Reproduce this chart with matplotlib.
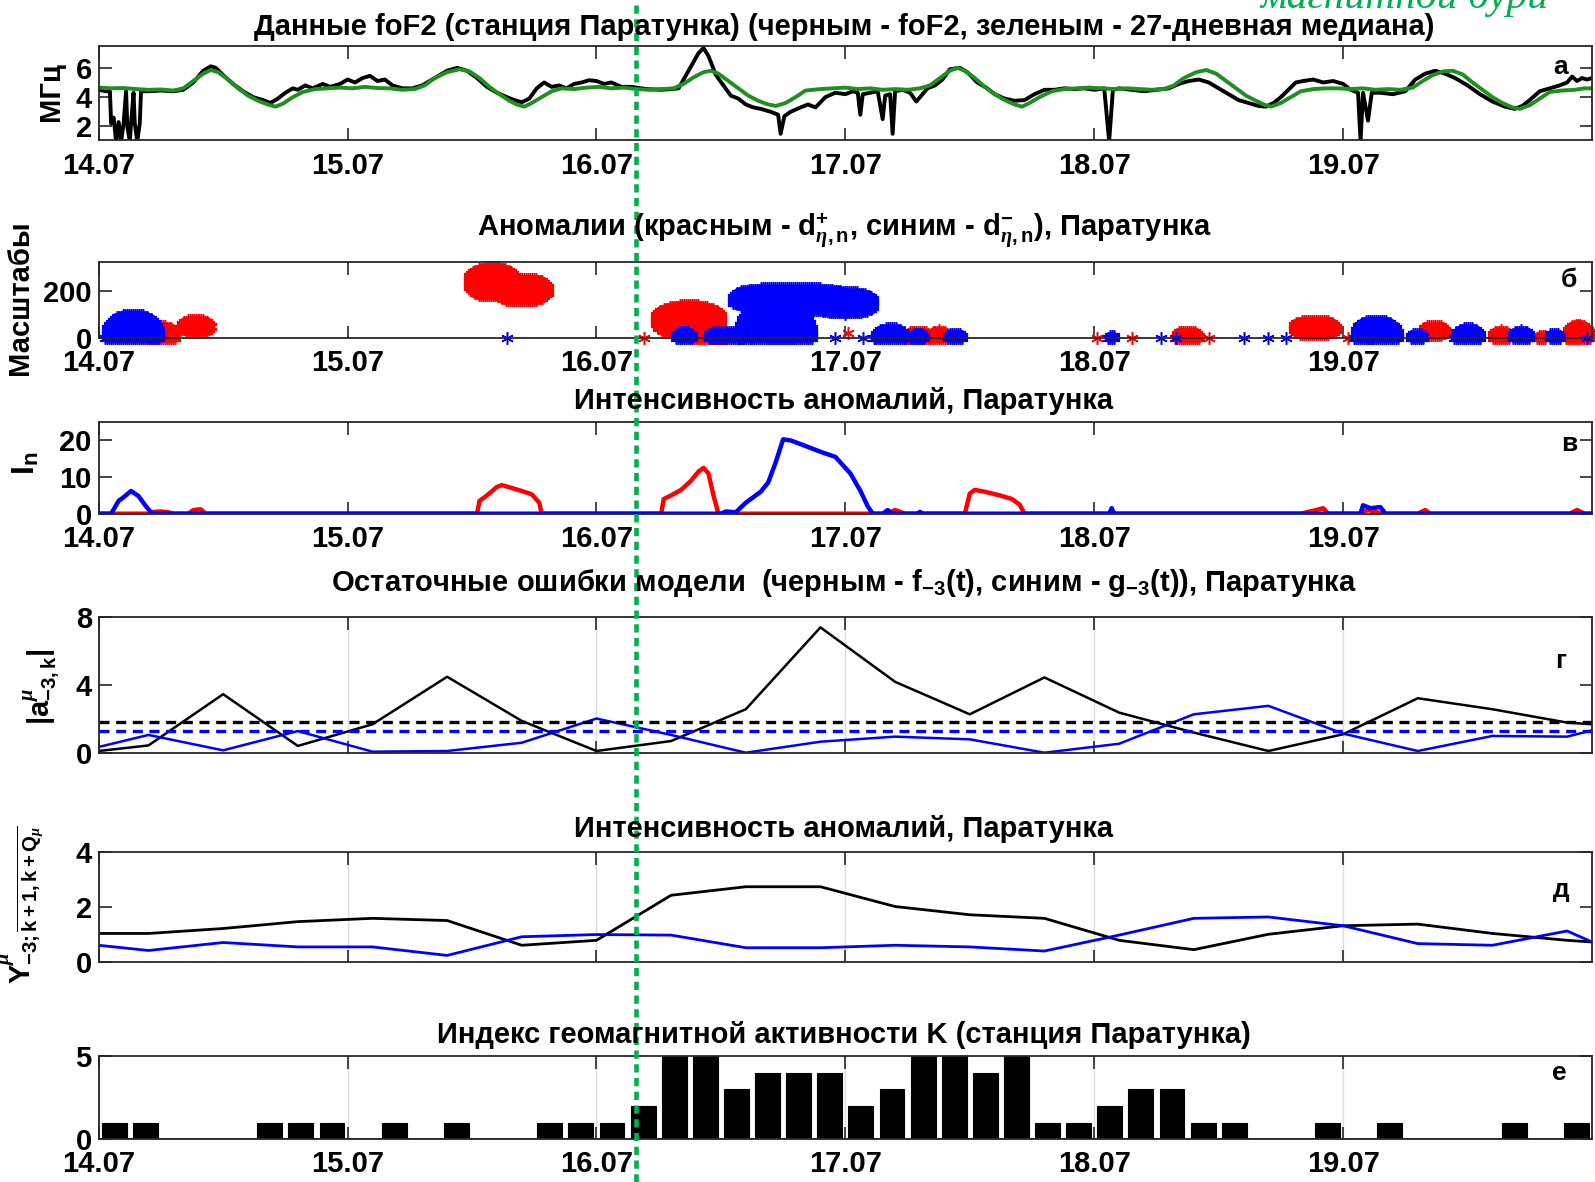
import numpy as np
import matplotlib
matplotlib.use('Agg')
import matplotlib.pyplot as plt
from matplotlib.lines import Line2D

plt.rcParams['font.family'] = ['Liberation Sans Narrow', 'Liberation Sans', 'DejaVu Sans']
plt.rcParams['font.weight'] = 'bold'
plt.rcParams['mathtext.fontset'] = 'custom'
plt.rcParams['mathtext.rm'] = 'Liberation Sans:bold'
plt.rcParams['mathtext.bf'] = 'Liberation Sans:bold'
plt.rcParams['mathtext.it'] = 'Liberation Serif:italic'

#%% DATA (time in days from 14.07 00:00)
day_ticks = [0, 1, 2, 3, 4, 5]
day_labels = ['14.07', '15.07', '16.07', '17.07', '18.07', '19.07']
storm_day = 2.157

# panel a: foF2 (black) and 27-day median (green), MHz
fof2_t = [0.00, 0.03, 0.045, 0.05, 0.06, 0.07, 0.08, 0.09, 0.10, 0.11, 0.115, 0.125, 0.13, 0.14,
          0.145, 0.155, 0.165, 0.17, 0.2, 0.25, 0.3, 0.34, 0.38, 0.42, 0.45, 0.47, 0.5, 0.54,
          0.58, 0.62, 0.66, 0.69, 0.72, 0.75, 0.78, 0.8, 0.83, 0.86, 0.9, 0.93, 0.97, 1.0,
          1.03, 1.06, 1.09, 1.12, 1.15, 1.18, 1.22, 1.26, 1.3, 1.35, 1.4, 1.44, 1.48, 1.52,
          1.56, 1.6, 1.64, 1.67, 1.7, 1.73, 1.76, 1.79, 1.82, 1.85, 1.88, 1.91, 1.94, 1.97,
          2.0, 2.03, 2.06, 2.1, 2.14, 2.2, 2.26, 2.3, 2.33, 2.37, 2.41, 2.43, 2.45, 2.48,
          2.51, 2.54, 2.57, 2.6, 2.63, 2.66, 2.7, 2.73, 2.74, 2.755, 2.78, 2.82, 2.85, 2.88,
          2.92, 2.96, 3.0, 3.03, 3.05, 3.06, 3.07, 3.1, 3.13, 3.15, 3.16, 3.18, 3.19, 3.2,
          3.23, 3.26, 3.285, 3.3, 3.33, 3.36, 3.39, 3.42, 3.46, 3.49, 3.53, 3.57, 3.6, 3.64,
          3.68, 3.72, 3.76, 3.8, 3.84, 3.88, 3.92, 3.96, 4.0, 4.04, 4.06, 4.075, 4.1, 4.15,
          4.2, 4.25, 4.3, 4.34, 4.38, 4.42, 4.46, 4.5, 4.54, 4.58, 4.62, 4.66, 4.69, 4.72,
          4.75, 4.78, 4.81, 4.84, 4.88, 4.92, 4.96, 5.0, 5.03, 5.06, 5.07, 5.08, 5.1, 5.115,
          5.15, 5.2, 5.25, 5.29, 5.33, 5.37, 5.41, 5.45, 5.5, 5.55, 5.6, 5.65, 5.69, 5.72,
          5.75, 5.79, 5.83, 5.87, 5.9, 5.92, 5.94, 5.96, 5.98, 6.0]
fof2_v = [4.5, 4.4, 4.4, 2.2, 2.6, 1.0, 2.3, 1.0, 2.2, 4.4, 2.0, 1.0, 2.2, 4.3,
          2.2, 1.0, 2.2, 4.4, 4.4, 4.45, 4.4, 4.5, 5.0, 5.8, 6.1, 6.0, 5.5, 4.9,
          4.4, 4.0, 3.8, 3.6, 3.9, 4.3, 4.6, 4.5, 4.8, 4.6, 4.9, 4.7, 4.9, 5.2,
          5.0, 5.3, 5.45, 5.1, 5.2, 4.8, 4.6, 4.6, 4.8, 5.3, 5.8, 6.0, 5.8, 5.3,
          4.7, 4.3, 4.0, 3.8, 3.65, 3.9, 4.6, 5.0, 4.7, 4.8, 4.6, 4.9, 5.0, 5.15,
          5.1, 4.9, 5.0, 4.7, 4.7, 4.55, 4.5, 4.55, 4.6, 5.8, 7.0, 7.35, 6.8, 5.5,
          4.8, 4.1, 3.9, 3.5, 3.3, 3.2, 3.0, 2.8, 1.5, 2.7, 3.0, 3.3, 3.5, 3.3,
          4.0, 4.3, 4.2, 4.4, 4.3, 2.8, 4.2, 4.3, 4.4, 2.5, 4.1, 4.2, 1.5, 4.4,
          4.5, 4.3, 3.7, 4.0, 4.6, 4.8, 5.2, 5.9, 6.0, 5.7, 5.0, 4.6, 4.2, 3.9,
          3.75, 3.8, 4.2, 4.5, 4.5, 4.6, 4.55, 4.6, 4.5, 4.6, 1.0, 4.5, 4.6, 4.5,
          4.4, 4.5, 4.6, 4.9, 5.1, 5.2, 5.0, 4.6, 4.2, 3.8, 3.6, 3.4, 3.35, 3.6,
          4.0, 4.5, 5.0, 5.1, 5.2, 5.0, 5.1, 4.9, 4.5, 4.3, 1.0, 4.3, 2.4, 4.3,
          4.3, 4.2, 4.4, 5.2, 5.6, 5.8, 5.6, 5.3, 4.8, 4.2, 3.7, 3.35, 3.2, 3.4,
          3.8, 4.4, 4.6, 4.8, 5.0, 5.4, 5.1, 5.3, 5.2, 5.3]
median_t = [0.00, 0.05, 0.10, 0.15, 0.20, 0.25, 0.30, 0.34, 0.38, 0.42, 0.45, 0.48, 0.52, 0.56,
            0.60, 0.64, 0.68, 0.71, 0.74, 0.78, 0.82, 0.87, 0.92, 0.97, 1.02, 1.07, 1.12, 1.17,
            1.22, 1.27, 1.31, 1.35, 1.40, 1.45, 1.49, 1.53, 1.57, 1.61, 1.65, 1.68, 1.71, 1.74,
            1.78, 1.82, 1.86, 1.91, 1.96, 2.01, 2.06, 2.11, 2.16, 2.21, 2.26, 2.31, 2.35, 2.39,
            2.43, 2.46, 2.49, 2.53, 2.57, 2.61, 2.65, 2.69, 2.72, 2.76, 2.8, 2.84, 2.9, 2.95,
            3.0, 3.05, 3.1, 3.15, 3.2, 3.25, 3.3, 3.34, 3.38, 3.42, 3.45, 3.48, 3.52, 3.56,
            3.6, 3.64, 3.68, 3.71, 3.74, 3.78, 3.83, 3.88, 3.93, 3.98, 4.03, 4.08, 4.13, 4.18,
            4.23, 4.28, 4.32, 4.36, 4.41, 4.45, 4.49, 4.53, 4.57, 4.61, 4.65, 4.68, 4.71, 4.75,
            4.79, 4.83, 4.88, 4.93, 4.98, 5.03, 5.08, 5.13, 5.18, 5.23, 5.28, 5.32, 5.36, 5.4,
            5.44, 5.48, 5.52, 5.56, 5.6, 5.64, 5.68, 5.71, 5.75, 5.79, 5.83, 5.88, 5.93, 5.97, 6.0]
median_v = [4.65, 4.6, 4.62, 4.55, 4.5, 4.52, 4.45, 4.6, 5.1, 5.6, 5.85, 5.7, 5.2, 4.6,
            4.1, 3.75, 3.5, 3.35, 3.55, 4.0, 4.35, 4.55, 4.6, 4.65, 4.6, 4.7, 4.62, 4.6,
            4.5, 4.55, 4.8, 5.3, 5.7, 5.9, 5.75, 5.3, 4.7, 4.2, 3.75, 3.5, 3.35, 3.6,
            4.0, 4.4, 4.6, 4.55, 4.65, 4.7, 4.6, 4.65, 4.55, 4.5, 4.55, 4.6, 4.9, 5.35,
            5.7, 5.8, 5.6, 5.1, 4.6, 4.1, 3.75, 3.5, 3.4, 3.6, 4.0, 4.45, 4.55, 4.6,
            4.65, 4.55, 4.6, 4.5, 4.55, 4.5, 4.6, 4.8, 5.3, 5.8, 6.0, 5.8, 5.3, 4.7,
            4.2, 3.8, 3.5, 3.35, 3.6, 4.0, 4.4, 4.55, 4.6, 4.65, 4.6, 4.55, 4.6, 4.55,
            4.5, 4.55, 4.8, 5.3, 5.7, 5.85, 5.6, 5.1, 4.6, 4.1, 3.75, 3.5, 3.35, 3.6,
            4.0, 4.4, 4.55, 4.6, 4.6, 4.55, 4.6, 4.5, 4.55, 4.5, 4.65, 5.1, 5.5, 5.75,
            5.8, 5.55, 5.0, 4.5, 4.0, 3.6, 3.3, 3.2, 3.45, 3.9, 4.35, 4.45, 4.5, 4.6, 4.6]

# panel b: anomaly clusters (centre time, half width [days], centre scale, half height)
pos_tc = [0.255, 0.39, 1.58, 1.7, 2.19, 2.37, 2.45, 2.74, 3.01, 3.12, 3.295, 3.375,
          4.01, 4.15, 4.375, 4.46, 4.885, 5.02, 5.11, 5.365, 5.635, 5.8, 5.945]
pos_hw = [0.06, 0.065, 0.1, 0.11, 0.0, 0.14, 0.075, 0.06, 0.0, 0.0, 0.05, 0.04,
          0.0, 0.0, 0.05, 0.0, 0.09, 0.0, 0.02, 0.05, 0.04, 0.02, 0.05]
pos_sc = [0, 50, 240, 205, 0, 75, 0, 0, 20, 0, 0, 0,
          0, 0, 0, 0, 42, 0, 0, 30, 0, 0, 0]
pos_hh = [50, 30, 65, 52, 0, 65, 45, 15, 0, 0, 32, 32,
          0, 0, 32, 0, 35, 0, 10, 27, 32, 15, 57]
neg_tc = [0.135, 1.64, 2.35, 2.52, 2.62, 2.78, 2.72, 3.0, 2.96, 3.07, 3.18, 3.29, 3.44,
          4.07, 4.27, 4.33, 4.6, 4.7, 4.77, 5.135, 5.295, 5.5, 5.715, 5.85, 5.98]
neg_hw = [0.11, 0.0, 0.04, 0.075, 0.0, 0.24, 0.15, 0.12, 0.0, 0.0, 0.065, 0.03, 0.035,
          0.015, 0.0, 0.0, 0.0, 0.0, 0.0, 0.09, 0.03, 0.055, 0.04, 0.025, 0.0]
neg_sc = [0, 0, 0, 0, 0, 165, 0, 150, 0, 0, 0, 0, 0,
          0, 0, 0, 0, 0, 0, 0, 0, 0, 0, 0, 0]
neg_hh = [103, 0, 27, 32, 0, 55, 160, 50, 0, 0, 42, 22, 22,
          15, 0, 0, 0, 0, 0, 80, 22, 42, 32, 22, 0]

# panel v: anomaly intensity
ipos_t = [0, 0.2, 0.22, 0.25, 0.28, 0.3, 0.36, 0.38, 0.41, 0.43, 1.52, 1.53, 1.56, 1.6, 1.62,
          1.66, 1.7, 1.74, 1.77, 1.78, 2.26, 2.27, 2.3, 2.34, 2.38, 2.41, 2.43, 2.45, 2.47,
          2.49, 3.17, 3.2, 3.24, 3.48, 3.5, 3.52, 3.56, 3.62, 3.67, 3.7, 3.72, 4.83, 4.88,
          4.92, 4.94, 5.06, 5.1, 5.16, 5.3, 5.33, 5.35, 5.91, 5.94, 5.97, 6.0]
ipos_v = [0, 0, 0.5, 0.6, 0.4, 0, 0, 1.0, 1.2, 0, 0, 3.5, 5.0, 7.3, 7.8,
          7.0, 6.2, 5.3, 3.0, 0, 0, 4.0, 5.0, 6.5, 9.0, 11.5, 12.5, 11.0, 5.0,
          0, 0, 1.0, 0, 0, 5.5, 6.5, 6.0, 5.0, 4.0, 2.5, 0, 0, 0.8,
          1.5, 0, 0, 1.0, 0, 0, 1.0, 0, 0, 1.0, 0, 0]
ineg_t = [0, 0.05, 0.08, 0.1, 0.13, 0.16, 0.19, 0.215, 2.5, 2.52, 2.54, 2.56, 2.6, 2.63,
          2.66, 2.69, 2.72, 2.75, 2.78, 2.82, 2.9, 2.96, 3.02, 3.06, 3.09, 3.11, 3.15, 3.17,
          3.19, 3.29, 3.3, 3.31, 4.06, 4.07, 4.08, 5.07, 5.08, 5.11, 5.15, 5.17, 6.0]
ineg_v = [0, 0, 3.5, 4.5, 6.2, 4.8, 2.0, 0, 0, 0.6, 0.5, 0.4, 3.0, 4.5,
          6.0, 8.5, 14.0, 20.3, 20.0, 19.0, 16.9, 15.5, 11.0, 6.3, 2.0, 0, 0, 1.0,
          0, 0, 0.5, 0, 0, 1.5, 0, 0, 2.3, 1.5, 1.8, 0, 0]

# panels g, d: model residuals and their intensity
node_t = [0, 0.2, 0.5, 0.8, 1.1, 1.4, 1.7, 2.0, 2.3, 2.6, 2.9, 3.2, 3.5, 3.8, 4.1,
          4.4, 4.7, 5.0, 5.3, 5.6, 5.9, 6.0]
f3_v = [0.1, 0.43, 3.46, 0.4, 1.68, 4.49, 1.88, 0.1, 0.69, 2.57, 7.41, 4.19, 2.27, 4.45,
        2.37, 1.19, 0.1, 1.09, 3.22, 2.57, 1.78, 1.68]
g3_v = [0.34, 1.05, 0.14, 1.28, 0.06, 0.1, 0.59, 2.02, 1.05, 0.0, 0.65, 0.95, 0.79, 0.0,
        0.53, 2.27, 2.77, 1.13, 0.1, 0.99, 0.95, 1.32]
f3_thr = 1.82
g3_thr = 1.28
yf_v = [1.05, 1.05, 1.23, 1.48, 1.6, 1.52, 0.62, 0.8, 2.44, 2.75, 2.75, 2.03, 1.73, 1.6,
        0.8, 0.46, 1.02, 1.33, 1.39, 1.05, 0.8, 0.74]
yg_v = [0.62, 0.43, 0.72, 0.56, 0.56, 0.25, 0.93, 1.01, 0.99, 0.53, 0.53, 0.62, 0.56, 0.41,
        0.99, 1.6, 1.65, 1.33, 0.68, 0.62, 1.14, 0.74]

# panel e: 3-hour K index
k_index = [1, 1, 0, 0, 0, 1, 1, 1, 0, 1, 0, 1, 0, 0, 1, 1,
           1, 2, 5, 5, 3, 4, 4, 4, 2, 3, 5, 5, 4, 5, 1, 1,
           2, 3, 3, 1, 1, 0, 0, 1, 0, 1, 0, 0, 0, 1, 0, 1]


#%% HELPERS
def blobPoints(tc, hw, sc, hh):
    ts = np.arange(tc - hw, tc + hw + 1e-9, 0.008) if hw > 0 else np.array([tc])
    ss = np.arange(max(sc - hh, 0), sc + hh + 1e-9, 8) if hh > 0 else np.array([sc])
    T, S = np.meshgrid(ts, ss)
    u = np.abs(T - tc) / hw if hw > 0 else 0 * T
    v = np.abs(S - sc) / hh if hh > 0 else 0 * S
    m = u ** 2.2 + v ** 2.2 <= 1.0
    return T[m], S[m]


def styleAxes(ax, yticks, ylim, labels=True, grid=False):
    ax.set_xlim(0, 6)
    ax.set_ylim(*ylim)
    ax.set_xticks(day_ticks)
    ax.set_xticklabels(day_labels if labels else [])
    ax.set_yticks(yticks)
    ax.tick_params(direction='in', length=9, width=1.2, top=True, right=True,
                   labelsize=21, colors='#262626', labelcolor='black', pad=5)
    ax.tick_params(axis='x', pad=8)
    for s in ax.spines.values():
        s.set_linewidth(1.3)
        s.set_color('#262626')
    if grid:
        ax.grid(axis='x', color='#dcdcdc', lw=1)
    ax.set_axisbelow(True)


W_PX, H_PX = 1595, 1182
L = 98.7 / W_PX
W = (1592 - 98.7) / W_PX


def axesAt(top_px, bottom_px):
    return fig.add_axes([L, 1 - bottom_px / H_PX, W, (bottom_px - top_px) / H_PX])


def figText(x_px, y_px, s, **kw):
    fig.text(x_px / W_PX, 1 - y_px / H_PX, s, **kw)


def title(y_px, s):
    figText(844, y_px, s, ha='center', va='baseline', fontsize=TS)


#%% PLOT
fig = plt.figure(figsize=(15.95, 11.82), dpi=100)
TS = 21

# a
ax = axesAt(45.8, 140.4)
ax.plot(fof2_t, fof2_v, color='black', lw=2.8)
ax.plot(median_t, median_v, color='#1f8f1f', lw=2.8)
styleAxes(ax, [2, 4, 6], (1.05, 7.5))
ax.text(0.984, 0.78, 'а', transform=ax.transAxes, ha='right', va='center', fontsize=19)
title(35, 'Данные foF2 (станция Паратунка) (черным - foF2, зеленым - 27-дневная медиана)')
figText(51, 91.5, 'МГц', rotation=90, ha='center', va='center', fontsize=TS)
ax_a = ax

# b
ax = axesAt(262.4, 337.7)
for tc, hw, sc, hh in zip(pos_tc, pos_hw, pos_sc, pos_hh):
    t, s = blobPoints(tc, hw, sc, hh)
    ax.plot(t, s, ls='none', marker=(6, 2, 0), ms=9, mew=1.1, color='red', clip_on=False)
for tc, hw, sc, hh in zip(neg_tc, neg_hw, neg_sc, neg_hh):
    t, s = blobPoints(tc, hw, sc, hh)
    ax.plot(t, s, ls='none', marker=(6, 2, 0), ms=9, mew=1.1, color='blue', clip_on=False)
styleAxes(ax, [0, 200], (0, 322))
ax.text(0.99, 0.77, 'б', transform=ax.transAxes, ha='right', va='center', fontsize=19)
title(236, r'Аномалии (красным - $\mathbf{d}^{\mathbf{+}}_{\eta\mathbf{,n}}$, '
      r'синим - $\mathbf{d}^{\mathbf{-}}_{\eta\mathbf{,n}}$), Паратунка')
figText(20, 298, 'Масштабы', rotation=90, ha='center', va='center', fontsize=TS)

# v
ax = axesAt(422.1, 513.7)
ax.plot(ipos_t, ipos_v, color='red', lw=3.2)
ax.plot(ineg_t, ineg_v, color='blue', lw=3.2)
styleAxes(ax, [0, 10, 20], (0, 25))
ax.text(0.99, 0.76, 'в', transform=ax.transAxes, ha='right', va='center', fontsize=19)
title(409, 'Интенсивность аномалий, Паратунка')
figText(26, 463, r'$\mathbf{I}_{\mathbf{n}}$', rotation=90, ha='center', va='center', fontsize=TS + 2)

# g
ax = axesAt(617.4, 752.7)
ax.plot(node_t, f3_v, color='black', lw=1.8)
ax.plot(node_t, g3_v, color='blue', lw=1.8)
ax.axhline(f3_thr, color='black', lw=2.4, ls=(0, (3, 2)))
ax.axhline(g3_thr, color='blue', lw=2.4, ls=(0, (3, 2)))
styleAxes(ax, [0, 4, 8], (0, 8), labels=False, grid=True)
ax.text(0.983, 0.68, 'г', transform=ax.transAxes, ha='right', va='center', fontsize=19)
title(591, r'Остаточные ошибки модели  (черным - $\mathbf{f}_{\mathbf{-3}}\mathbf{(t)}$, '
      r'синим - $\mathbf{g}_{\mathbf{-3}}\mathbf{(t)}$), Паратунка')
figText(41, 687, r'$\mathbf{|a}^{\mu}_{\mathbf{-3,k}}\mathbf{|}$', rotation=90,
        ha='center', va='center', fontsize=TS)

# d
ax = axesAt(852.4, 962.3)
ax.plot(node_t, yf_v, color='black', lw=2.0)
ax.plot(node_t, yg_v, color='blue', lw=2.0)
styleAxes(ax, [0, 2, 4], (0, 4), labels=False, grid=True)
ax.text(0.985, 0.66, 'д', transform=ax.transAxes, ha='right', va='center', fontsize=19)
title(837, 'Интенсивность аномалий, Паратунка')
figText(22, 905, r'$\mathbf{Y}^{\mu}_{\mathbf{-3;}\overline{\mathbf{k+1,k+Q}_{\mu}}}$', rotation=90,
        ha='center', va='center', fontsize=TS)

# e
ax = axesAt(1055.9, 1139.3)
k_t = np.arange(len(k_index)) * 0.125 + 0.0625
ax.bar(k_t, k_index, width=0.1, color='black', edgecolor='black', lw=0.8)
ax.axhline(0, color='#262626', lw=1.2)
styleAxes(ax, [0, 5], (0, 5), grid=True)
ax.text(0.983, 0.79, 'е', transform=ax.transAxes, ha='right', va='center', fontsize=19)
title(1043, 'Индекс геомагнитной активности K (станция Паратунка)')

# storm onset line across the whole figure
pos = ax_a.get_position()
xs = pos.x0 + storm_day / 6.0 * pos.width
fig.add_artist(Line2D([xs, xs], [0, 1], transform=fig.transFigure, color='#00b050',
                      lw=3.3, ls=(0, (1.8, 1.2))))
figText(1548, 8, 'магнитной бури', family='Liberation Serif', style='italic', weight='normal',
        color='#00b050', fontsize=30, ha='right', va='baseline')

fig.savefig('out.png', dpi=100)
